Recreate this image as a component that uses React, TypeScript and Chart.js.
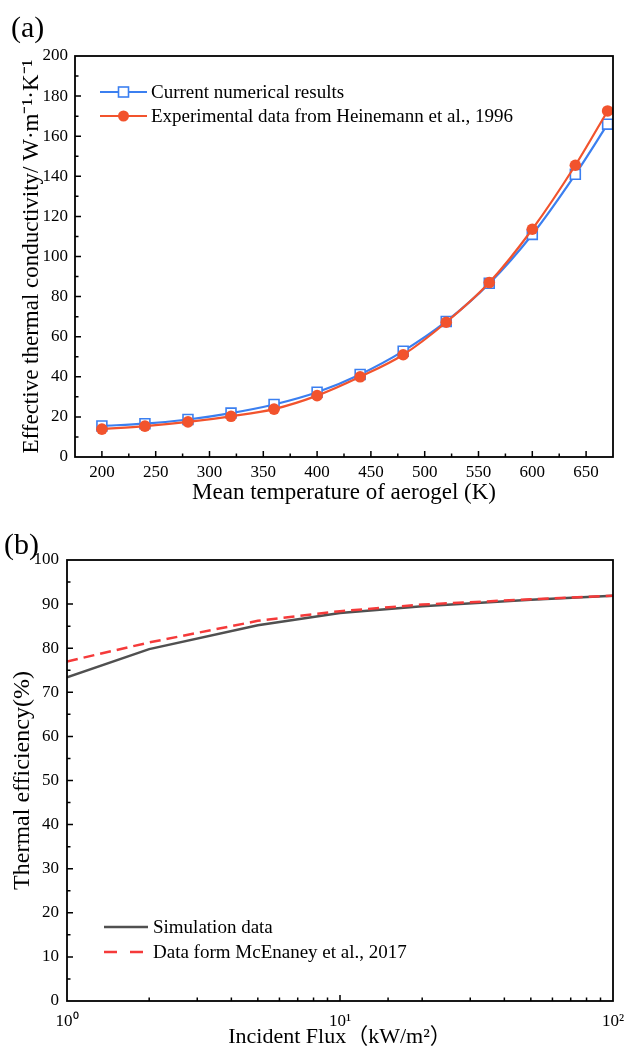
import React, { useEffect, useRef } from 'react';
import { Chart, registerables } from 'chart.js';

Chart.register(...registerables);

const SERIF = '"Liberation Serif", "Times New Roman", "Noto Sans CJK SC", serif';

// ---------- Data (a) ----------
const tempK = [200, 240, 280, 320, 360, 400, 440, 480, 520, 560, 600, 640, 670];
const numericalResults = [15.5, 16.6, 18.7, 21.9, 26.2, 32.3, 41.2, 52.8, 67.6, 86.6, 111, 141, 166];
const experimentalData = [13.9, 15.4, 17.5, 20.3, 23.9, 30.6, 40.0, 51.0, 67.2, 87.0, 113.6, 145.5, 172.6];
const tempTickLabels = ['200', '250', '300', '350', '400', '450', '500', '550', '600', '650'];
const condTickLabels = ['0', '20', '40', '60', '80', '100', '120', '140', '160', '180', '200'];

// ---------- Data (b) ----------
const incidentFlux = [1, 2, 5, 10, 20, 50, 100];
const simulationData = [73.4, 79.8, 85.2, 88.0, 89.5, 91.0, 91.9];
const mcEnaneyData = [77.0, 81.3, 86.2, 88.4, 89.9, 91.1, 91.9];
const fluxTickLabels: Record<string, string> = { '1': '10\u2070', '10': '10\u00B9', '100': '10\u00B2' };
const effTickLabels = ['0', '10', '20', '30', '40', '50', '60', '70', '80', '90', '100'];

const BLUE = '#3b7ff0';
const ORANGE = '#f2532d';
const GRAY = '#505050';
const RED = '#f53a3a';

function makeFrame(isMajorX: (v: number) => boolean, isMajorY: (v: number) => boolean) {
  return {
    id: 'frame',
    afterDraw(chart: any) {
      const { ctx, chartArea: a, scales } = chart;
      ctx.save();
      ctx.strokeStyle = '#000';
      ctx.lineWidth = 1.5;
      ctx.beginPath();
      scales.x.ticks.forEach((t: any) => {
        const p = scales.x.getPixelForValue(t.value);
        if (p <= a.left + 1 || p >= a.right - 1) return;
        const len = isMajorX(t.value) ? 6 : 3.5;
        ctx.moveTo(p, a.bottom);
        ctx.lineTo(p, a.bottom - len);
      });
      scales.y.ticks.forEach((t: any) => {
        const p = scales.y.getPixelForValue(t.value);
        if (p <= a.top + 1 || p >= a.bottom - 1) return;
        const len = isMajorY(t.value) ? 6 : 3.5;
        ctx.moveTo(a.left, p);
        ctx.lineTo(a.left + len, p);
      });
      ctx.stroke();
      ctx.lineWidth = 1.8;
      ctx.strokeRect(a.left, a.top, a.right - a.left, a.bottom - a.top);
      ctx.restore();
    },
  };
}

type LegendRow = { y: number; dash?: number[]; marker?: 'rect' | 'circle' };
function makeLegend(rows: LegendRow[], x0: number, x1: number, tx: number, size: number) {
  return {
    id: 'insetLegend',
    afterDraw(chart: any) {
      const { ctx } = chart;
      ctx.save();
      rows.forEach((r, i) => {
        const ds = chart.data.datasets[i];
        ctx.strokeStyle = ds.borderColor;
        ctx.lineWidth = ds.borderWidth;
        ctx.setLineDash(r.dash || []);
        ctx.beginPath();
        ctx.moveTo(x0, r.y);
        ctx.lineTo(x1, r.y);
        ctx.stroke();
        ctx.setLineDash([]);
        const mx = (x0 + x1) / 2;
        if (r.marker === 'rect') {
          ctx.fillStyle = '#fff';
          ctx.lineWidth = 1.6;
          ctx.fillRect(mx - 5, r.y - 5, 10, 10);
          ctx.strokeRect(mx - 5, r.y - 5, 10, 10);
        } else if (r.marker === 'circle') {
          ctx.fillStyle = ds.pointBackgroundColor;
          ctx.beginPath();
          ctx.arc(mx, r.y, 5.5, 0, Math.PI * 2);
          ctx.fill();
        }
        ctx.fillStyle = '#000';
        ctx.font = `${size}px ${SERIF}`;
        ctx.textAlign = 'left';
        ctx.textBaseline = 'middle';
        ctx.fillText(ds.label, tx, r.y + 1);
      });
      ctx.restore();
    },
  };
}

function makePanelLabel(text: string, x: number, y: number) {
  return {
    id: 'panelLabel',
    afterDraw(chart: any) {
      const { ctx } = chart;
      ctx.save();
      ctx.fillStyle = '#000';
      ctx.font = `30px ${SERIF}`;
      ctx.textAlign = 'left';
      ctx.textBaseline = 'middle';
      ctx.fillText(text, x, y);
      ctx.restore();
    },
  };
}

const tickFont = { family: SERIF, size: 17 };
const titleFont = { family: SERIF, size: 23, lineHeight: 1.2 };

export default function App() {
  const topRef = useRef<HTMLCanvasElement>(null);
  const botRef = useRef<HTMLCanvasElement>(null);

  useEffect(() => {
    const top = new Chart(topRef.current as HTMLCanvasElement, {
      type: 'line',
      data: {
        datasets: [
          {
            label: 'Current numerical results',
            data: tempK.map((t, i) => ({ x: t, y: numericalResults[i] })),
            borderColor: BLUE,
            borderWidth: 2.2,
            pointStyle: 'rect',
            pointRadius: 7,
            pointBackgroundColor: '#fff',
            pointBorderColor: BLUE,
            pointBorderWidth: 1.6,
            cubicInterpolationMode: 'monotone',
            order: 2,
          },
          {
            label: 'Experimental data from Heinemann et al., 1996',
            data: tempK.map((t, i) => ({ x: t, y: experimentalData[i] })),
            borderColor: ORANGE,
            borderWidth: 2.2,
            pointStyle: 'circle',
            pointRadius: 5.8,
            pointBackgroundColor: ORANGE,
            pointBorderColor: ORANGE,
            pointBorderWidth: 0,
            cubicInterpolationMode: 'monotone',
            order: 1,
          },
        ],
      },
      options: {
        animation: false,
        responsive: false,
        events: [],
        layout: { padding: { left: 0, right: 11, top: 56, bottom: 0 } },
        plugins: { legend: { display: false }, tooltip: { enabled: false } },
        scales: {
          x: {
            type: 'linear',
            min: 175,
            max: 675,
            afterFit: (s: any) => { s.height = 63; s.paddingLeft = 0; s.paddingRight = 0; },
            grid: { display: false, drawTicks: false },
            border: { display: false },
            ticks: {
              stepSize: 25,
              autoSkip: false,
              maxRotation: 0,
              padding: 5,
              color: '#000',
              font: tickFont,
              callback: (v: any) => (tempTickLabels.includes(String(v)) ? String(v) : ''),
            },
            title: {
              display: true,
              text: 'Mean temperature of aerogel (K)',
              color: '#000',
              font: titleFont,
              padding: { top: 0, bottom: 13.2 },
            },
          },
          y: {
            type: 'linear',
            min: 0,
            max: 200,
            afterFit: (s: any) => { s.width = 75; s.paddingTop = 0; s.paddingBottom = 0; },
            grid: { display: false, drawTicks: false },
            border: { display: false },
            ticks: {
              stepSize: 10,
              autoSkip: false,
              padding: 7,
              color: '#000',
              font: tickFont,
              callback: (v: any) => (condTickLabels.includes(String(v)) ? String(v) : ''),
            },
            title: {
              display: true,
              text: 'Effective thermal conductivity/ W\u00B7m\u207B\u00B9\u00B7K\u207B\u00B9',
              color: '#000',
              font: titleFont,
              padding: { top: 18.2, bottom: 0 },
            },
          },
        },
      },
      plugins: [
        makeFrame((v) => v % 50 === 0, (v) => v % 20 === 0),
        makeLegend([{ y: 92, marker: 'rect' }, { y: 116, marker: 'circle' }], 100, 147, 151, 19),
        makePanelLabel('(a)', 11, 29),
      ],
    } as any);

    const isDecade = (v: number) => Math.abs(Math.log10(v) - Math.round(Math.log10(v))) < 1e-9;

    const bot = new Chart(botRef.current as HTMLCanvasElement, {
      type: 'line',
      data: {
        datasets: [
          {
            label: 'Simulation data',
            data: incidentFlux.map((f, i) => ({ x: f, y: simulationData[i] })),
            borderColor: GRAY,
            borderWidth: 2.5,
            pointRadius: 0,
            order: 2,
          },
          {
            label: 'Data form McEnaney et al., 2017',
            data: incidentFlux.map((f, i) => ({ x: f, y: mcEnaneyData[i] })),
            borderColor: RED,
            borderWidth: 2.5,
            borderDash: [11, 6],
            pointRadius: 0,
            order: 1,
          },
        ],
      },
      options: {
        animation: false,
        responsive: false,
        events: [],
        layout: { padding: { left: 0, right: 11, top: 40, bottom: 0 } },
        plugins: { legend: { display: false }, tooltip: { enabled: false } },
        scales: {
          x: {
            type: 'logarithmic',
            min: 1,
            max: 100,
            afterFit: (s: any) => { s.height = 47; s.paddingLeft = 0; s.paddingRight = 0; },
            grid: { display: false, drawTicks: false },
            border: { display: false },
            ticks: {
              autoSkip: false,
              maxRotation: 0,
              padding: 10,
              color: '#000',
              font: tickFont,
              callback: (v: any) => fluxTickLabels[String(v)] || '',
            },
            title: {
              display: true,
              text: 'Incident Flux\uFF08kW/m\u00B2\uFF09',
              color: '#000',
              font: { family: SERIF, size: 22, lineHeight: 1 },
              padding: { top: 0, bottom: 0 },
            },
          },
          y: {
            type: 'linear',
            min: 0,
            max: 100,
            afterFit: (s: any) => { s.width = 67; s.paddingTop = 0; s.paddingBottom = 0; },
            grid: { display: false, drawTicks: false },
            border: { display: false },
            ticks: {
              stepSize: 5,
              autoSkip: false,
              padding: 8,
              color: '#000',
              font: tickFont,
              callback: (v: any) => (effTickLabels.includes(String(v)) ? String(v) : ''),
            },
            title: {
              display: true,
              text: 'Thermal efficiency(%)',
              color: '#000',
              font: { family: SERIF, size: 24, lineHeight: 1.2 },
              padding: { top: 8.6, bottom: 0 },
            },
          },
        },
      },
      plugins: [
        makeFrame(isDecade, (v) => v % 10 === 0),
        makeLegend([{ y: 407 }, { y: 432, dash: [13, 13] }], 104, 148, 153, 19),
        makePanelLabel('(b)', 4, 26),
      ],
    } as any);

    return () => {
      top.destroy();
      bot.destroy();
    };
  }, []);

  return (
    <div style={{ position: 'absolute', left: 0, top: 0, width: 624, height: 1048, background: '#fff' }}>
      <canvas ref={topRef} width={624} height={520} style={{ display: 'block', width: 624, height: 520 }} />
      <canvas ref={botRef} width={624} height={528} style={{ display: 'block', width: 624, height: 528 }} />
    </div>
  );
}
